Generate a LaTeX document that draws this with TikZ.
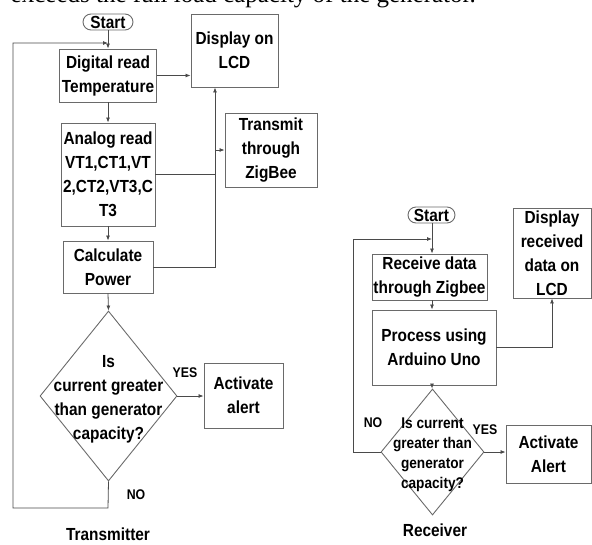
\documentclass[tikz,border=0pt]{standalone}
\usepackage{fontspec}
\setmainfont{Liberation Sans}[FakeStretch=0.88]
\newfontfamily\serifpart{Liberation Serif}
\usetikzlibrary{arrows.meta,shapes.geometric}
\definecolor{boxgray}{HTML}{6A6A6A}
\definecolor{linegray}{HTML}{4A4A4A}
\tikzset{
  fbox/.style={draw=boxgray, line width=0.9pt, inner sep=0pt, align=center,
    font=\fontsize{17.5}{24}\selectfont\bfseries},
  ddia/.style={draw=boxgray, line width=0.9pt, diamond, inner sep=0pt},
  dtext/.style={align=center, inner sep=0pt},
  conn/.style={draw=linegray, line width=0.8pt},
  arr/.style={conn, -{Latex[length=5pt,width=4pt]}},
  lbl/.style={inner sep=0pt, font=\fontsize{14}{16}\selectfont\bfseries},
  ttl/.style={inner sep=0pt, font=\fontsize{17.5}{20}\selectfont\bfseries},
}
\begin{document}
\begin{tikzpicture}[x=1pt,y=-1pt]
\useasboundingbox (0,0) rectangle (592,544);
% clipped line of text at the top
\node[anchor=base east, inner sep=0pt, font=\serifpart\fontsize{25}{28}\selectfont] (toptext) at (476,2.5) {exceeds the full load capacity of the generator.};
% ---------------- Transmitter ----------------
\node[fbox, rounded corners=8pt, minimum width=50pt, minimum height=16pt] (start) at (108,22) {Start};
\node[fbox, minimum width=97pt, minimum height=53pt] (dig) at (108,75.5) {Digital read\\Temperature};
\node[fbox, minimum width=87pt, minimum height=73pt] (lcd) at (234.5,50.5) {Display on\\LCD};
\node[fbox, minimum width=94pt, minimum height=103pt] (ana) at (108,174.5) {Analog read\\VT1,CT1,VT\\2,CT2,VT3,C\\T3};
\node[fbox, minimum width=92pt, minimum height=74pt] (trans) at (271,150) {Transmit\\through\\ZigBee};
\node[fbox, minimum width=90pt, minimum height=52pt] (calc) at (108,267) {Calculate\\Power};
\node[ddia, minimum width=137pt, minimum height=170pt] (dia) at (108.5,396) {};
\node[fbox, draw=none, dtext] (diat) at (108.5,399) {Is\\current greater\\than generator\\capacity?};
\node[fbox, minimum width=79pt, minimum height=65pt] (alert) at (243.5,395.5) {Activate\\alert};
\coordinate (bus) at (215,150);
\coordinate (nob) at (108,508);
\coordinate (nol) at (13,508);
\coordinate (loopin) at (108,43);

\draw[arr] (start.south) -- (dig.north);
\draw[arr] (dig.east) -- (dig.east -| lcd.west);
\draw[arr] (dig.south) -- (ana.north);
\draw[arr] (ana.south) -- (calc.north);
\draw[arr] (calc.south) -- (dia.north);
\draw[conn] (ana.east) -- (ana.east -| bus);
\draw[arr] (calc.east) -| (lcd.south -| bus);
\draw[arr] (bus) -- (trans.west);
\draw[arr] (dia.east) -- (dia.east -| alert.west);
\draw[arr] (dia.south) -- (nob) -- (nol) |- (loopin);
\node[lbl] (yes1) at (185,373) {YES};
\node[lbl] (no1) at (136,495) {NO};
\node[ttl] (ttx) at (108,534) {Transmitter};

% ---------------- Receiver ----------------
\node[fbox, rounded corners=8pt, minimum width=47pt, minimum height=16pt] (rstart) at (431.5,215) {Start};
\node[fbox, minimum width=115pt, minimum height=46pt] (recv) at (429.5,277) {Receive data\\through Zigbee};
\node[fbox, minimum width=124pt, minimum height=75pt] (proc) at (434,347.5) {Process using\\Arduino Uno};
\node[fbox, minimum width=78pt, minimum height=90pt] (rlcd) at (552,253) {Display\\received\\data on\\LCD};
\node[ddia, minimum width=103pt, minimum height=126pt] (rdia) at (432.5,452) {};
\node[fbox, draw=none, dtext, font=\fontsize{15.5}{20}\selectfont\bfseries] (rdiat) at (432.5,455) {Is current\\greater than\\generator\\capacity?};
\node[fbox, minimum width=85pt, minimum height=58pt] (ralert) at (548.5,454) {Activate\\Alert};
\coordinate (rx) at (432,0);
\coordinate (rnol) at (353,452);
\coordinate (rloopin) at (432,239);

\draw[arr] (rstart.south -| rx) -- (recv.north -| rx);
\draw[arr] (recv.south -| rx) -- (proc.north -| rx);
\draw[arr] (proc.south -| rx) -- (rdia.north -| rx);
\draw[arr] (proc.east) -| (rlcd.south);
\draw[arr] (rdia.east) -- (rdia.east -| ralert.west);
\draw[arr] (rdia.west) -- (rnol) |- (rloopin);
\node[lbl] (yes2) at (485,430) {YES};
\node[lbl] (no2) at (373,423) {NO};
\node[ttl] (trx) at (435,530) {Receiver};
\end{tikzpicture}
\end{document}
